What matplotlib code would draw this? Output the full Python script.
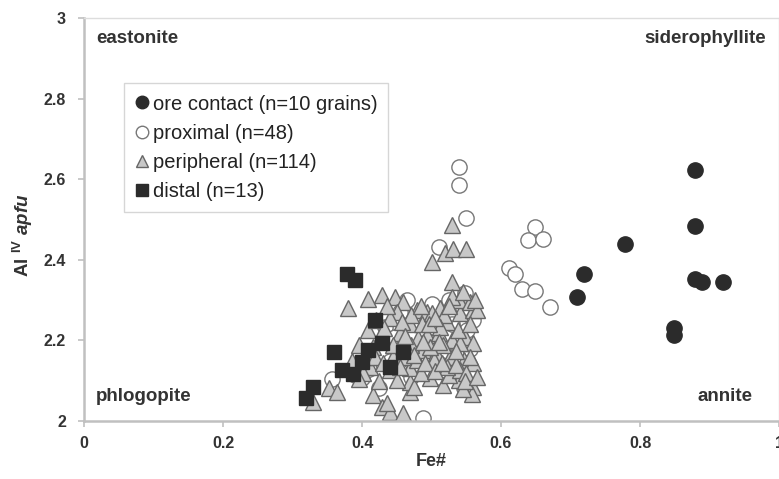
import matplotlib
matplotlib.use("Agg")
import matplotlib.pyplot as plt
from matplotlib.lines import Line2D

plt.rcParams["font.family"] = ["Liberation Sans", "DejaVu Sans"]
plt.rcParams["mathtext.fontset"] = "custom"
plt.rcParams["mathtext.rm"] = "Liberation Sans:bold"
plt.rcParams["mathtext.it"] = "Liberation Sans:bold:italic"

# ore contact
ore_x = [0.879, 0.879, 0.778, 0.719, 0.709, 0.879, 0.889, 0.919, 0.849, 0.849]
ore_y = [2.623, 2.484, 2.439, 2.365, 2.309, 2.352, 2.346, 2.346, 2.232, 2.213]

# proximal
prox_x = [0.540, 0.540, 0.550, 0.510, 0.649, 0.639, 0.660, 0.611, 0.620, 0.630,
          0.649, 0.670, 0.488,
          0.548, 0.517, 0.551, 0.433, 0.447, 0.428, 0.400, 0.356, 0.424, 0.546,
          0.390, 0.410, 0.460, 0.470, 0.480, 0.500, 0.520, 0.540, 0.530, 0.500,
          0.455, 0.490, 0.510, 0.535, 0.555, 0.560, 0.470, 0.440, 0.480, 0.505,
          0.525, 0.545, 0.465, 0.515, 0.495]
prox_y = [2.631, 2.586, 2.505, 2.432, 2.482, 2.449, 2.453, 2.379, 2.365, 2.329,
          2.323, 2.284, 2.007,
          2.317, 2.280, 2.226, 2.234, 2.209, 2.172, 2.106, 2.104, 2.081, 2.081,
          2.115, 2.130, 2.190, 2.150, 2.250, 2.200, 2.170, 2.140, 2.240, 2.290,
          2.270, 2.120, 2.110, 2.120, 2.180, 2.250, 2.110, 2.150, 2.180, 2.230,
          2.300, 2.280, 2.300, 2.140, 2.160]

# peripheral
peri_x = [0.529, 0.500, 0.519, 0.531, 0.550, 0.529, 0.380, 0.409, 0.428, 0.447,
          0.459, 0.450, 0.479, 0.493, 0.512, 0.352, 0.364, 0.330, 0.416, 0.428,
          0.440, 0.459, 0.469, 0.469, 0.498, 0.517, 0.539, 0.560, 0.440, 0.469,
          0.412, 0.404, 0.416, 0.409, 0.479, 0.488, 0.507, 0.527, 0.546, 0.560,
          0.481, 0.493, 0.510, 0.529, 0.548, 0.469, 0.486, 0.522, 0.541, 0.560,
          0.548, 0.539, 0.450, 0.445, 0.426, 0.555, 0.566, 0.560, 0.558, 0.545,
          0.525, 0.475, 0.436, 0.541, 0.522, 0.503, 0.485, 0.459, 0.541, 0.517,
          0.498, 0.470, 0.455, 0.518, 0.500, 0.470, 0.440, 0.436, 0.529, 0.562,
          0.512, 0.497, 0.458, 0.420, 0.432, 0.418, 0.430, 0.395, 0.402, 0.425,
          0.455, 0.465, 0.475, 0.490, 0.505, 0.515, 0.535, 0.550, 0.555, 0.535,
          0.510, 0.488, 0.538, 0.555, 0.505, 0.485, 0.525, 0.545, 0.462, 0.445,
          0.395, 0.385, 0.548, 0.565]
peri_y = [2.486, 2.395, 2.416, 2.428, 2.428, 2.346, 2.280, 2.304, 2.312, 2.309,
          2.296, 2.270, 2.275, 2.270, 2.280, 2.081, 2.073, 2.048, 2.065, 2.035,
          2.023, 2.019, 2.073, 2.098, 2.106, 2.089, 2.102, 2.085, 2.127, 2.131,
          2.135, 2.160, 2.184, 2.226, 2.151, 2.176, 2.168, 2.160, 2.151, 2.143,
          2.205, 2.213, 2.218, 2.201, 2.209, 2.242, 2.242, 2.246, 2.267, 2.275,
          2.309, 2.300, 2.102, 2.160, 2.205, 2.295, 2.275, 2.193, 2.068, 2.080,
          2.115, 2.085, 2.045, 2.127, 2.135, 2.151, 2.120, 2.160, 2.193, 2.190,
          2.184, 2.190, 2.218, 2.262, 2.267, 2.262, 2.255, 2.285, 2.309, 2.300,
          2.234, 2.240, 2.245, 2.250, 2.230, 2.160, 2.145, 2.190, 2.120, 2.100,
          2.135, 2.180, 2.165, 2.145, 2.125, 2.145, 2.140, 2.120, 2.160, 2.175,
          2.195, 2.195, 2.225, 2.240, 2.255, 2.285, 2.285, 2.320, 2.210, 2.190,
          2.105, 2.150, 2.100, 2.110]

# distal
dist_x = [0.378, 0.390, 0.419, 0.359, 0.428, 0.409, 0.459, 0.400, 0.440, 0.371,
          0.387, 0.330, 0.320]
dist_y = [2.366, 2.350, 2.250, 2.172, 2.194, 2.176, 2.172, 2.147, 2.135, 2.127,
          2.117, 2.085, 2.056]

labels = ["ore contact (n=10 grains)", "proximal (n=48)",
          "peripheral (n=114)", "distal (n=13)"]

dark = "#2b2b2b"
text_col = "#333333"
axis_col = "#c0c0c0"

fig = plt.figure(figsize=(7.79, 4.79), dpi=100)
ax = fig.add_axes([0.108, 0.121, 0.892, 0.841])

ax.plot(ore_x, ore_y, "o", ms=11, mfc=dark, mec=dark, mew=1, ls="none")
ax.plot(prox_x, prox_y, "o", ms=11, mfc="white", mec="#777777", mew=1, ls="none")
ax.plot(peri_x, peri_y, "^", ms=11, mfc="#c8c8c8", mec="#666666", mew=1, ls="none")
ax.plot(dist_x, dist_y, "s", ms=10.5, mfc=dark, mec=dark, mew=1, ls="none")

ax.set_xlim(0, 1)
ax.set_ylim(2, 3)
ax.set_xticks([0, 0.2, 0.4, 0.6, 0.8, 1])
ax.set_xticklabels(["0", "0.2", "0.4", "0.6", "0.8", "1"])
ax.set_yticks([2, 2.2, 2.4, 2.6, 2.8, 3])
ax.set_yticklabels(["2", "2.2", "2.4", "2.6", "2.8", "3"])

for side in ["left", "bottom"]:
    ax.spines[side].set_color(axis_col)
    ax.spines[side].set_linewidth(1.8)
for side in ["top", "right"]:
    ax.spines[side].set_color("#dddddd")
    ax.spines[side].set_linewidth(1.0)

ax.tick_params(direction="out", length=4, width=1.2, color=axis_col,
               labelsize=11.5, labelcolor=text_col)
ax.tick_params(axis="x", pad=7)
ax.tick_params(axis="y", pad=9)
for t in ax.get_xticklabels() + ax.get_yticklabels():
    t.set_fontweight("bold")

ax.set_xlabel("Fe#", fontsize=13, fontweight="bold", color=text_col, labelpad=1)
ax.set_ylabel(r"Al $^{\mathrm{IV}}$ $\mathit{apfu}$", fontsize=13.5,
              fontweight="bold", color=text_col)
ax.yaxis.set_label_coords(-0.07, 0.46)

corner = dict(fontsize=13.5, fontweight="bold", color=text_col)
ax.text(0.017, 2.95, "eastonite", ha="left", va="center", **corner)
ax.text(0.982, 2.95, "siderophyllite", ha="right", va="center", **corner)
ax.text(0.017, 2.062, "phlogopite", ha="left", va="center", **corner)
ax.text(0.962, 2.062, "annite", ha="right", va="center", **corner)

handles = [
    Line2D([], [], marker="o", ls="none", ms=9, mfc=dark, mec=dark),
    Line2D([], [], marker="o", ls="none", ms=9, mfc="white", mec="#777777"),
    Line2D([], [], marker="^", ls="none", ms=9, mfc="#c8c8c8", mec="#666666"),
    Line2D([], [], marker="s", ls="none", ms=8.5, mfc=dark, mec=dark),
]
leg = ax.legend(handles, labels, loc="upper left", bbox_to_anchor=(0.058, 0.838),
                fontsize=14.5, frameon=True, fancybox=False, handlelength=0.6,
                handletextpad=0.25, labelspacing=0.5, borderpad=0.55,
                borderaxespad=0)
leg.get_frame().set_edgecolor("#cccccc")
leg.get_frame().set_linewidth(1.0)
for t in leg.get_texts():
    t.set_color("#222222")

fig.savefig("out.png", dpi=100)
